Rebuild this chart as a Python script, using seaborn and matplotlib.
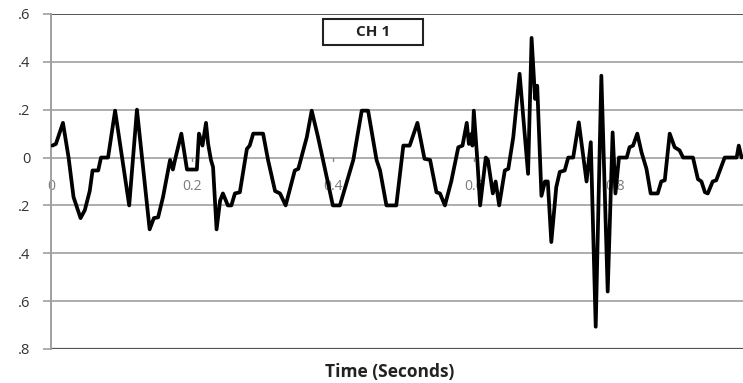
import numpy as np
import pandas as pd
import matplotlib
matplotlib.use("Agg")
import matplotlib.pyplot as plt
import matplotlib.patches as patches
import seaborn as sns

# CH 1 trace (time in seconds, amplitude)
time_s = [0.002, 0.007, 0.017, 0.025, 0.032, 0.042, 0.048, 0.055, 0.059, 0.067,
          0.071, 0.081, 0.091, 0.111, 0.122, 0.140, 0.146, 0.152, 0.159, 0.169,
          0.173, 0.176, 0.185, 0.193, 0.207, 0.210, 0.215, 0.220, 0.223, 0.227,
          0.230, 0.235, 0.240, 0.244, 0.251, 0.256, 0.261, 0.268, 0.278, 0.282,
          0.287, 0.301, 0.308, 0.318, 0.325, 0.333, 0.346, 0.351, 0.363, 0.370,
          0.379, 0.400, 0.410, 0.429, 0.441, 0.450, 0.462, 0.467, 0.476, 0.490,
          0.500, 0.509, 0.520, 0.530, 0.538, 0.547, 0.552, 0.559, 0.568, 0.578,
          0.584, 0.590, 0.593, 0.597, 0.598, 0.600, 0.605, 0.609, 0.617, 0.620,
          0.627, 0.631, 0.636, 0.644, 0.649, 0.656, 0.665, 0.677, 0.682, 0.687,
          0.690, 0.696, 0.701, 0.705, 0.710, 0.717, 0.722, 0.729, 0.734, 0.741,
          0.749, 0.760, 0.766, 0.773, 0.781, 0.790, 0.797, 0.801, 0.806, 0.817,
          0.821, 0.826, 0.832, 0.838, 0.845, 0.851, 0.861, 0.866, 0.871, 0.878,
          0.885, 0.892, 0.897, 0.911, 0.918, 0.923, 0.928, 0.932, 0.939, 0.944,
          0.956, 0.973, 0.976, 0.980]
amplitude = [0.05, 0.057, 0.145, 0.0, -0.165, -0.253, -0.22, -0.14, -0.054, -0.054,
             0.0, 0.0, 0.196, -0.2, 0.2, -0.30, -0.253, -0.25, -0.165, -0.01,
             -0.05, -0.01, 0.1, -0.05, -0.05, 0.1, 0.05, 0.145, 0.057, -0.01,
             -0.04, -0.30, -0.18, -0.15, -0.2, -0.2, -0.15, -0.145, 0.036, 0.05,
             0.1, 0.1, -0.01, -0.14, -0.15, -0.2, -0.054, -0.047, 0.085, 0.196,
             0.085, -0.2, -0.2, -0.01, 0.196, 0.196, -0.01, -0.054, -0.2, -0.2,
             0.05, 0.05, 0.145, -0.005, -0.01, -0.145, -0.15, -0.2, -0.1, 0.043,
             0.05, 0.145, 0.057, 0.1, 0.05, 0.196, -0.01, -0.2, 0.0, -0.01,
             -0.15, -0.1, -0.2, -0.054, -0.047, 0.085, 0.35, -0.068, 0.5, 0.245,
             0.30, -0.16, -0.1, -0.1, -0.353, -0.124, -0.06, -0.054, 0.0, 0.0,
             0.147, -0.1, 0.064, -0.707, 0.342, -0.56, 0.105, -0.15, 0.0, 0.0,
             0.043, 0.05, 0.1, 0.022, -0.047, -0.15, -0.15, -0.1, -0.095, 0.1,
             0.043, 0.03, 0.0, 0.0, -0.09, -0.1, -0.145, -0.15, -0.1, -0.095,
             0.0, 0.0, 0.05, 0.0]

y_ticks = [0.6, 0.4, 0.2, 0.0, -0.2, -0.4, -0.6, -0.8]
y_tick_labels = [".6", ".4", ".2", "0", ".2", ".4", ".6", ".8"]
x_ticks = [0.0, 0.2, 0.4, 0.6, 0.8]
x_tick_labels = ["0", "0.2", "0.4", "0.6", "0.8"]

sns.set_style("white")
plt.rcParams["font.family"] = ["Open Sans", "DejaVu Sans"]
plt.rcParams["ytick.left"] = True

df = pd.DataFrame({"Time": time_s, "Amplitude": amplitude})

fig = plt.figure(figsize=(7.43, 3.83), dpi=100)
ax = fig.add_axes([0.0686, 0.0888, 0.9314, 0.8747])

grid_col = "#a0a0a0"
for yv in y_ticks:
    if yv in (0.6, -0.8):
        continue
    ax.axhline(yv, color=grid_col, lw=1.2, zorder=1)
ax.axhline(0.6, color="#555555", lw=1.4, zorder=1)
ax.axhline(-0.8, color="#555555", lw=1.6, zorder=1)

# x tick labels sit under the zero line, Excel style
for xv, lab in zip(x_ticks, x_tick_labels):
    ax.text(xv, -0.12, lab, ha="center", va="center", fontsize=10,
            color="#7a7a7a", zorder=2)
    if xv > 0:
        ax.plot([xv, xv], [0, -0.015], color="#888888", lw=1, zorder=2)

sns.lineplot(data=df, x="Time", y="Amplitude", color="black", lw=2.7,
             estimator=None, ax=ax, zorder=3, solid_joinstyle="round")

ax.set_xlim(0, 0.982)
ax.set_ylim(-0.8, 0.6)
ax.set_yticks(y_ticks)
ax.set_yticklabels(y_tick_labels, fontsize=10.5, color="#333333")
ax.tick_params(axis="y", which="major", left=True, length=6, color=grid_col,
               pad=9, width=1.2, direction="out")
ax.set_xticks([])
ax.set_xlabel("")
ax.set_ylabel("")
for side in ["top", "right", "bottom"]:
    ax.spines[side].set_visible(False)
ax.spines["left"].set_color(grid_col)
ax.spines["left"].set_linewidth(1.4)

# CH 1 label box
box = patches.Rectangle((0.393, 0.907), 0.145, 0.078, transform=ax.transAxes,
                        facecolor="white", edgecolor="#222222", lw=1.5, zorder=4)
ax.add_patch(box)
ax.text(0.4655, 0.946, "CH 1", transform=ax.transAxes, ha="center", va="center",
        fontsize=11, fontweight="bold", color="#222222", zorder=5)

fig.text(0.525, 0.029, "Time (Seconds)", ha="center", va="center",
         fontsize=12.5, fontweight="bold", color="#222222")

fig.savefig("out.png", dpi=100)
